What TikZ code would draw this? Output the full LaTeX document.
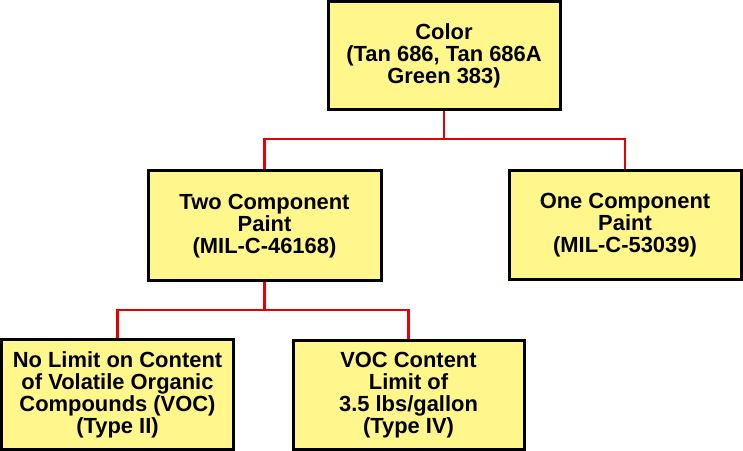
\documentclass[tikz,border=0pt]{standalone}
\usepackage{fontspec}
\setmainfont{Liberation Sans}
\definecolor{boxfill}{RGB}{255,246,140}
\definecolor{linkred}{RGB}{230,0,0}
\begin{document}
\begin{tikzpicture}[x=1bp,y=-1bp,
  box/.style={draw=black,line width=3bp,fill=boxfill,align=center,
    inner sep=0pt,font=\fontsize{22}{22}\selectfont\bfseries},
  link/.style={draw=linkred,line width=2.3bp}]
\useasboundingbox (0,0) rectangle (743,451);
\node[box,minimum width=232bp,minimum height=108bp] (color) at (444,56)
  {Color\\(Tan 686, Tan 686A\\Green 383)};
\node[box,minimum width=233bp,minimum height=110bp] (two) at (264.5,226)
  {Two Component\\Paint\\(MIL-C-46168)};
\node[box,minimum width=232bp,minimum height=109bp] (one) at (625,225.5)
  {One Component\\Paint\\(MIL-C-53039)};
\node[box,minimum width=231bp,minimum height=109bp] (nolimit) at (117.5,394.5)
  {No Limit on Content\\of Volatile Organic\\Compounds (VOC)\\(Type II)};
\node[box,minimum width=231bp,minimum height=108bp] (voc) at (408.5,395)
  {VOC Content\\Limit of\\3.5 lbs/gallon\\(Type IV)};
\coordinate (j1) at (444,139);
\coordinate (j2) at (264.5,310);
\path[link] (color.south) -- (j1);
\path[link] (j1) -| (two.north);
\path[link] (j1) -| (one.north);
\path[link] (two.south) -- (j2);
\path[link] (j2) -| (nolimit.north);
\path[link] (j2) -| (voc.north);
\end{tikzpicture}
\end{document}
